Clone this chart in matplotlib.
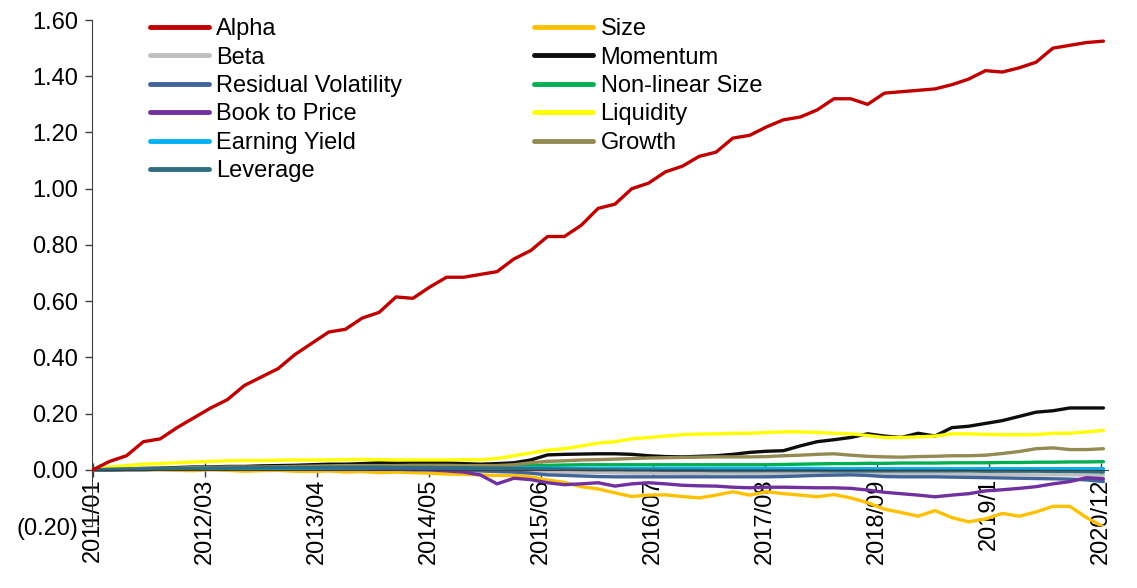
import numpy as np
import matplotlib
matplotlib.use("Agg")
import matplotlib.pyplot as plt
from matplotlib.ticker import FuncFormatter

plt.rcParams['font.family'] = ['Liberation Sans', 'DejaVu Sans']

# values read every 2 months, 2011/01 .. 2020/12
alpha = [0.00, 0.03, 0.05, 0.10, 0.11, 0.15, 0.185, 0.22, 0.25, 0.30, 0.33,
         0.36, 0.41, 0.45, 0.49, 0.50, 0.54, 0.56, 0.615, 0.61, 0.65,
         0.685, 0.685, 0.695, 0.705, 0.75, 0.78, 0.83, 0.83, 0.87, 0.93,
         0.945, 1.00, 1.02, 1.06, 1.08, 1.115, 1.13, 1.18, 1.19, 1.22,
         1.245, 1.255, 1.28, 1.32, 1.32, 1.30, 1.34, 1.345, 1.35, 1.355,
         1.37, 1.39, 1.42, 1.415, 1.43, 1.45, 1.50, 1.51, 1.52, 1.525]
size = [0, 0, 0, 0, 0, -0.002, -0.003, 0, -0.002, -0.005, -0.003,
        -0.002, -0.005, -0.006, -0.004, -0.008, -0.006, -0.010, -0.008, -0.010, -0.012,
        -0.015, -0.016, -0.018, -0.02, -0.02, -0.025, -0.036, -0.045, -0.06, -0.068,
        -0.082, -0.095, -0.09, -0.089, -0.095, -0.10, -0.09, -0.078, -0.09, -0.078,
        -0.085, -0.09, -0.096, -0.088, -0.10, -0.117, -0.14, -0.152, -0.165, -0.145,
        -0.17, -0.185, -0.175, -0.155, -0.165, -0.15, -0.13, -0.13, -0.17, -0.203]
beta = [0, 0, 0, 0.001, 0.001, 0.001, 0.002, 0.002, 0.002, 0.002, 0.002,
        0.003, 0.003, 0.003, 0.003, 0.002, 0.002, 0.001, 0.001, 0.0, 0.0,
        -0.001, -0.002, -0.003, -0.004, -0.005, -0.006, -0.008, -0.009, -0.010, -0.010,
        -0.011, -0.012, -0.012, -0.012, -0.013, -0.013, -0.012, -0.012, -0.013, -0.013,
        -0.013, -0.014, -0.014, -0.013, -0.012, -0.013, -0.014, -0.015, -0.015, -0.015,
        -0.015, -0.016, -0.016, -0.017, -0.017, -0.018, -0.018, -0.018, -0.019, -0.020]
momentum = [0, 0.002, 0.004, 0.005, 0.006, 0.008, 0.010, 0.010, 0.012, 0.012, 0.014,
            0.015, 0.016, 0.018, 0.020, 0.020, 0.022, 0.025, 0.024, 0.025, 0.025,
            0.025, 0.022, 0.020, 0.022, 0.025, 0.035, 0.053, 0.055, 0.056, 0.057,
            0.057, 0.055, 0.050, 0.047, 0.046, 0.048, 0.050, 0.055, 0.062, 0.066,
            0.068, 0.085, 0.100, 0.107, 0.115, 0.128, 0.120, 0.115, 0.130, 0.120,
            0.150, 0.155, 0.165, 0.175, 0.190, 0.205, 0.210, 0.220, 0.220, 0.220]
resid_vol = [0, 0, 0.001, 0.001, 0.002, 0.002, 0.002, 0.003, 0.003, 0.003, 0.003,
             0.003, 0.003, 0.003, 0.003, 0.003, 0.003, 0.002, 0.002, 0.001, 0.001,
             0.0, -0.002, -0.004, -0.006, -0.008, -0.012, -0.018, -0.020, -0.022, -0.024,
             -0.025, -0.025, -0.025, -0.025, -0.025, -0.025, -0.025, -0.025, -0.025, -0.025,
             -0.024, -0.022, -0.020, -0.019, -0.018, -0.020, -0.024, -0.025, -0.025, -0.025,
             -0.026, -0.027, -0.028, -0.029, -0.030, -0.031, -0.032, -0.033, -0.036, -0.042]
nonlin_size = [0, 0, 0.001, 0.001, 0.002, 0.002, 0.003, 0.003, 0.004, 0.004, 0.005,
               0.005, 0.006, 0.006, 0.007, 0.007, 0.008, 0.008, 0.009, 0.010, 0.010,
               0.011, 0.012, 0.012, 0.013, 0.014, 0.015, 0.016, 0.017, 0.018, 0.018,
               0.018, 0.018, 0.018, 0.018, 0.018, 0.018, 0.018, 0.018, 0.018, 0.018,
               0.019, 0.020, 0.021, 0.022, 0.022, 0.023, 0.023, 0.024, 0.024, 0.024,
               0.025, 0.025, 0.025, 0.026, 0.026, 0.027, 0.027, 0.028, 0.028, 0.029]
book_price = [0, 0, 0.001, 0.001, 0.002, 0.002, 0.002, 0.003, 0.003, 0.003, 0.004,
              0.004, 0.004, 0.004, 0.004, 0.003, 0.003, 0.002, 0.002, 0.001, 0.0,
              -0.004, -0.008, -0.018, -0.050, -0.030, -0.035, -0.046, -0.053, -0.050, -0.046,
              -0.058, -0.050, -0.046, -0.050, -0.055, -0.057, -0.058, -0.062, -0.064, -0.062,
              -0.062, -0.063, -0.064, -0.064, -0.066, -0.072, -0.080, -0.085, -0.090, -0.096,
              -0.090, -0.085, -0.075, -0.071, -0.066, -0.060, -0.050, -0.042, -0.028, -0.032]
liquidity = [0, 0.010, 0.015, 0.020, 0.022, 0.025, 0.028, 0.030, 0.032, 0.033, 0.033,
             0.034, 0.035, 0.035, 0.035, 0.036, 0.037, 0.036, 0.035, 0.035, 0.035,
             0.035, 0.036, 0.036, 0.040, 0.050, 0.060, 0.070, 0.075, 0.085, 0.095,
             0.100, 0.110, 0.115, 0.120, 0.125, 0.127, 0.128, 0.130, 0.130, 0.133,
             0.135, 0.135, 0.133, 0.130, 0.128, 0.122, 0.115, 0.115, 0.117, 0.120,
             0.128, 0.128, 0.126, 0.125, 0.125, 0.125, 0.130, 0.130, 0.135, 0.140]
earning_yield = [0, 0.001, 0.002, 0.002, 0.003, 0.003, 0.004, 0.004, 0.005, 0.005, 0.005,
                 0.006, 0.006, 0.006, 0.007, 0.007, 0.007, 0.008, 0.008, 0.008, 0.008,
                 0.008, 0.008, 0.007, 0.007, 0.007, 0.007, 0.006, 0.006, 0.005, 0.005,
                 0.005, 0.005, 0.005, 0.005, 0.005, 0.005, 0.005, 0.005, 0.005, 0.005,
                 0.005, 0.005, 0.005, 0.004, 0.004, 0.004, 0.004, 0.004, 0.004, 0.004,
                 0.004, 0.004, 0.004, 0.004, 0.004, 0.004, 0.004, 0.004, 0.004, 0.004]
growth = [0, 0.002, 0.003, 0.004, 0.005, 0.006, 0.008, 0.008, 0.010, 0.010, 0.010,
          0.011, 0.012, 0.013, 0.014, 0.015, 0.015, 0.015, 0.015, 0.016, 0.016,
          0.016, 0.015, 0.015, 0.015, 0.018, 0.025, 0.030, 0.032, 0.035, 0.036,
          0.038, 0.040, 0.042, 0.043, 0.044, 0.045, 0.046, 0.046, 0.046, 0.047,
          0.050, 0.052, 0.055, 0.057, 0.052, 0.048, 0.046, 0.045, 0.047, 0.048,
          0.050, 0.050, 0.052, 0.058, 0.065, 0.075, 0.078, 0.072, 0.072, 0.075]
leverage = [0, 0.001, 0.002, 0.003, 0.004, 0.005, 0.005, 0.006, 0.006, 0.007, 0.007,
            0.008, 0.008, 0.008, 0.009, 0.009, 0.009, 0.009, 0.008, 0.008, 0.008,
            0.007, 0.007, 0.006, 0.006, 0.005, 0.004, 0.003, 0.002, 0.001, 0.0,
            0.0, -0.001, -0.001, -0.002, -0.002, -0.002, -0.003, -0.003, -0.003, -0.003,
            -0.003, -0.003, -0.003, -0.004, -0.004, -0.004, -0.004, -0.004, -0.004, -0.004,
            -0.004, -0.004, -0.005, -0.005, -0.005, -0.005, -0.006, -0.006, -0.007, -0.008]

tick_labels = ['2011/01', '2012/03', '2013/04', '2014/05', '2015/06',
               '2016/07', '2017/08', '2018/09', '2019/1', '2020/12']

# drawing order (last on top near zero)
series = [
    ('Alpha', alpha, '#C00000'),
    ('Size', size, '#FFC000'),
    ('Beta', beta, '#BFBFBF'),
    ('Momentum', momentum, '#0D0D0D'),
    ('Residual Volatility', resid_vol, '#41659A'),
    ('Non-linear Size', nonlin_size, '#00B050'),
    ('Book to Price', book_price, '#7030A0'),
    ('Liquidity', liquidity, '#FFFF00'),
    ('Earning Yield', earning_yield, '#00B0F0'),
    ('Growth', growth, '#948A54'),
    ('Leverage', leverage, '#2E6E80'),
]
legend_order = ['Alpha', 'Beta', 'Residual Volatility', 'Book to Price',
                'Earning Yield', 'Leverage',
                'Size', 'Momentum', 'Non-linear Size', 'Liquidity', 'Growth']

x = np.arange(len(alpha)) * 2  # months since 2011/01

fig = plt.figure(figsize=(11.37, 5.88), dpi=100)
ax = fig.add_axes([0.0809, 0.1054, 0.894, 0.8605])

handles = {}
for name, vals, col in series:
    zo = 3 if name == 'Alpha' else 2
    h, = ax.plot(x, vals, color=col, lw=2.4, label=name, zorder=zo,
                 solid_capstyle='round')
    handles[name] = h

for s in ['top', 'right']:
    ax.spines[s].set_visible(False)
ax.spines['bottom'].set_position(('data', 0))
ax.spines['bottom'].set_color('#404040')
ax.spines['left'].set_color('#404040')

ax.set_ylim(-0.2, 1.6)
ax.set_xlim(-0.1, 120.6)
ax.set_yticks(np.arange(-0.2, 1.61, 0.2))
ax.yaxis.set_major_formatter(FuncFormatter(
    lambda v, p: '(%.2f)' % abs(v) if v < -1e-9 else '%.2f' % abs(v)))

ax.set_xticks(np.arange(10) * 13.3)
ax.set_xticklabels(tick_labels)
ax.tick_params(axis='y', direction='out', length=5, width=1, color='#404040',
               labelsize=17, pad=5)
ax.tick_params(axis='x', direction='inout', length=10, width=1, color='#404040',
               labelsize=17, pad=1, labelrotation=90)

leg = fig.legend([handles[n] for n in legend_order], legend_order, ncol=2,
                 loc='upper left', bbox_to_anchor=(0.1236, 0.985), frameon=False,
                 fontsize=17, handlelength=2.5, handletextpad=0.3,
                 labelspacing=0.27, columnspacing=5.6, borderaxespad=0)
for line in leg.get_lines():
    line.set_linewidth(3.5)

fig.savefig('out.png', dpi=100)
